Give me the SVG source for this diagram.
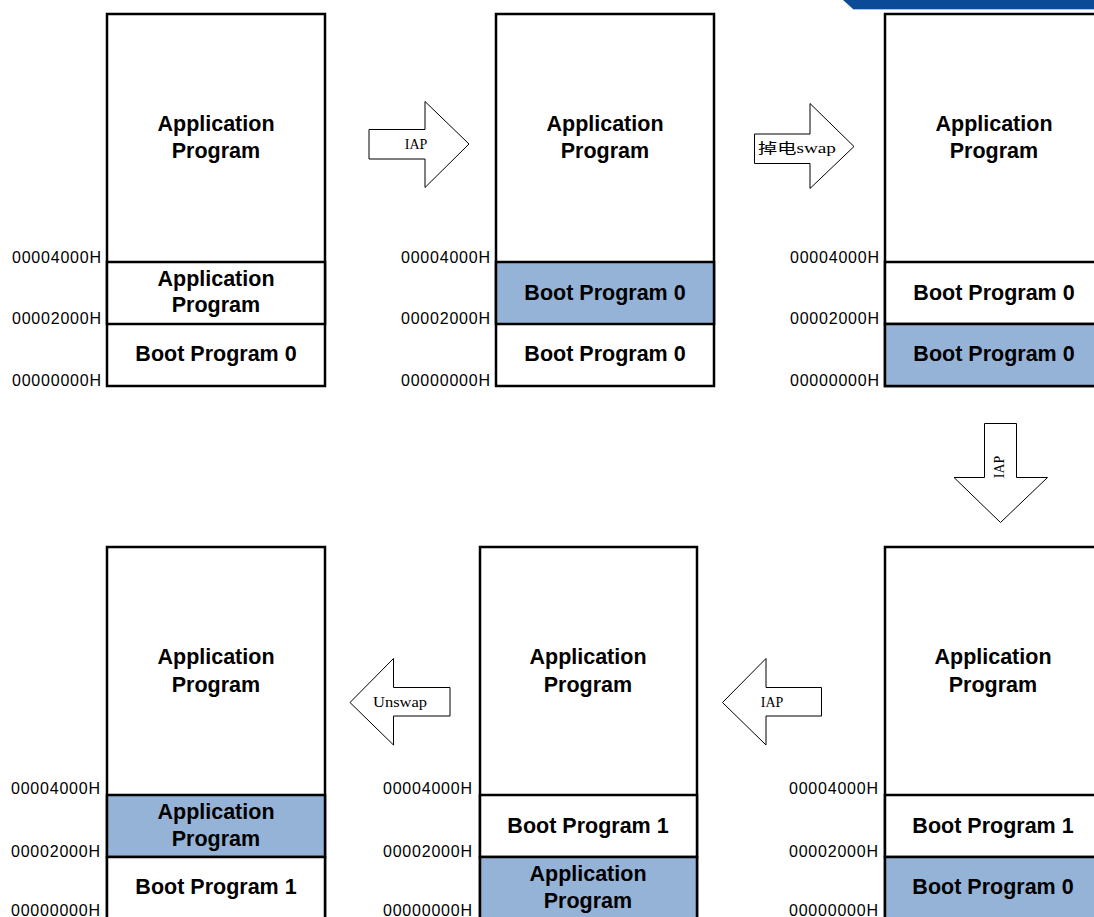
<svg xmlns="http://www.w3.org/2000/svg" width="1094" height="917" viewBox="0 0 1094 917">
<style>
.box{fill:#fff;stroke:#000;stroke-width:2.5}
.hl{fill:#95B3D7;stroke:#000;stroke-width:2.5}
.seg{fill:#fff;stroke:#000;stroke-width:2.5}
.t{font-family:"Liberation Sans",Arial,sans-serif;font-weight:bold;font-size:21.5px;text-anchor:middle;fill:#000}
.a{font-family:"Liberation Sans",Arial,sans-serif;font-size:16px;text-anchor:end;fill:#000}
.arr{fill:#fff;stroke:#000;stroke-width:1}
.al{font-family:"Liberation Serif","Noto Sans CJK SC",serif;font-size:14px;text-anchor:middle;fill:#000}
</style>
<rect width="1094" height="917" fill="#fff"/>
<polygon points="843,0 1094,0 1094,9 853,9" fill="#0a4a96"/>
<line x1="853" y1="9.5" x2="1094" y2="9.5" stroke="#a9c6e8" stroke-width="1"/>

<g id="mem1">
<rect class="box" x="107" y="14" width="218" height="372"/>
<rect class="seg" x="107" y="262" width="218" height="62"/>
<text class="t" x="216" y="131">Application</text>
<text class="t" x="216" y="158">Program</text>
<text class="t" x="216" y="286">Application</text>
<text class="t" x="216" y="312">Program</text>
<text class="t" x="216" y="361">Boot Program 0</text>
<text class="a" x="101" y="263" textLength="89">00004000H</text>
<text class="a" x="101" y="324" textLength="89">00002000H</text>
<text class="a" x="101" y="386" textLength="89">00000000H</text>
</g>

<g id="mem2">
<rect class="box" x="496" y="14" width="218" height="372"/>
<rect class="hl" x="496" y="262" width="218" height="62"/>
<text class="t" x="605" y="131">Application</text>
<text class="t" x="605" y="158">Program</text>
<text class="t" x="605" y="300">Boot Program 0</text>
<text class="t" x="605" y="361">Boot Program 0</text>
<text class="a" x="490" y="263" textLength="89">00004000H</text>
<text class="a" x="490" y="324" textLength="89">00002000H</text>
<text class="a" x="490" y="386" textLength="89">00000000H</text>
</g>

<g id="mem3">
<rect class="box" x="885" y="14" width="218" height="372"/>
<rect class="seg" x="885" y="262" width="218" height="62"/>
<rect class="hl" x="885" y="324" width="218" height="62"/>
<text class="t" x="994" y="131">Application</text>
<text class="t" x="994" y="158">Program</text>
<text class="t" x="994" y="300">Boot Program 0</text>
<text class="t" x="994" y="361">Boot Program 0</text>
<text class="a" x="879" y="263" textLength="89">00004000H</text>
<text class="a" x="879" y="324" textLength="89">00002000H</text>
<text class="a" x="879" y="386" textLength="89">00000000H</text>
</g>

<g id="mem4">
<rect class="box" x="885" y="547" width="218" height="372"/>
<rect class="seg" x="885" y="795" width="218" height="62"/>
<rect class="hl" x="885" y="857" width="218" height="62"/>
<text class="t" x="993" y="664">Application</text>
<text class="t" x="993" y="692">Program</text>
<text class="t" x="993" y="833">Boot Program 1</text>
<text class="t" x="993" y="894">Boot Program 0</text>
<text class="a" x="878" y="794" textLength="89">00004000H</text>
<text class="a" x="878" y="857" textLength="89">00002000H</text>
<text class="a" x="878" y="916" textLength="89">00000000H</text>
</g>

<g id="mem5">
<rect class="box" x="480" y="547" width="217" height="372"/>
<rect class="seg" x="480" y="795" width="217" height="62"/>
<rect class="hl" x="480" y="857" width="217" height="62"/>
<text class="t" x="588" y="664">Application</text>
<text class="t" x="588" y="692">Program</text>
<text class="t" x="588" y="833">Boot Program 1</text>
<text class="t" x="588" y="881">Application</text>
<text class="t" x="588" y="908">Program</text>
<text class="a" x="472" y="794" textLength="89">00004000H</text>
<text class="a" x="472" y="857" textLength="89">00002000H</text>
<text class="a" x="472" y="916" textLength="89">00000000H</text>
</g>

<g id="mem6">
<rect class="box" x="107" y="547" width="218" height="372"/>
<rect class="hl" x="107" y="795" width="218" height="62"/>
<rect class="seg" x="107" y="857" width="218" height="62"/>
<text class="t" x="216" y="664">Application</text>
<text class="t" x="216" y="692">Program</text>
<text class="t" x="216" y="819">Application</text>
<text class="t" x="216" y="846">Program</text>
<text class="t" x="216" y="894">Boot Program 1</text>
<text class="a" x="100" y="794" textLength="89">00004000H</text>
<text class="a" x="100" y="857" textLength="89">00002000H</text>
<text class="a" x="100" y="916" textLength="89">00000000H</text>
</g>

<g id="connectors">
<g id="arrow-iap1">
<polygon class="arr" points="369,129.5 425,129.5 425,101.5 469,144 425,187.5 425,159 369,159"/>
<text class="al" x="416" y="149">IAP</text>
</g>
<g id="arrow-swap">
<polygon class="arr" points="754.5,134 810,134 810,103.5 854,146.5 810,188.5 810,163.5 754.5,163.5"/>
<text class="al" x="797" y="153" textLength="78" lengthAdjust="spacingAndGlyphs">掉电swap</text>
</g>
<g id="arrow-iap2">
<polygon class="arr" points="984.5,423.5 1016.5,423.5 1016.5,477.5 1047.5,477.5 1000.5,522.5 954,477.5 984.5,477.5"/>
<text class="al" transform="translate(1004,467) rotate(-90)" x="0" y="0">IAP</text>
</g>
<g id="arrow-iap3">
<polygon class="arr" points="722.5,702.5 766,658.5 766,687.5 821.5,687.5 821.5,716 766,716 766,745"/>
<text class="al" x="772" y="707">IAP</text>
</g>
<g id="arrow-unswap">
<polygon class="arr" points="350,702.5 393.5,658.5 393.5,687.5 450,687.5 450,716 393.5,716 393.5,745"/>
<text class="al" x="400" y="707" textLength="54" lengthAdjust="spacingAndGlyphs">Unswap</text>
</g>
</g>
</svg>
